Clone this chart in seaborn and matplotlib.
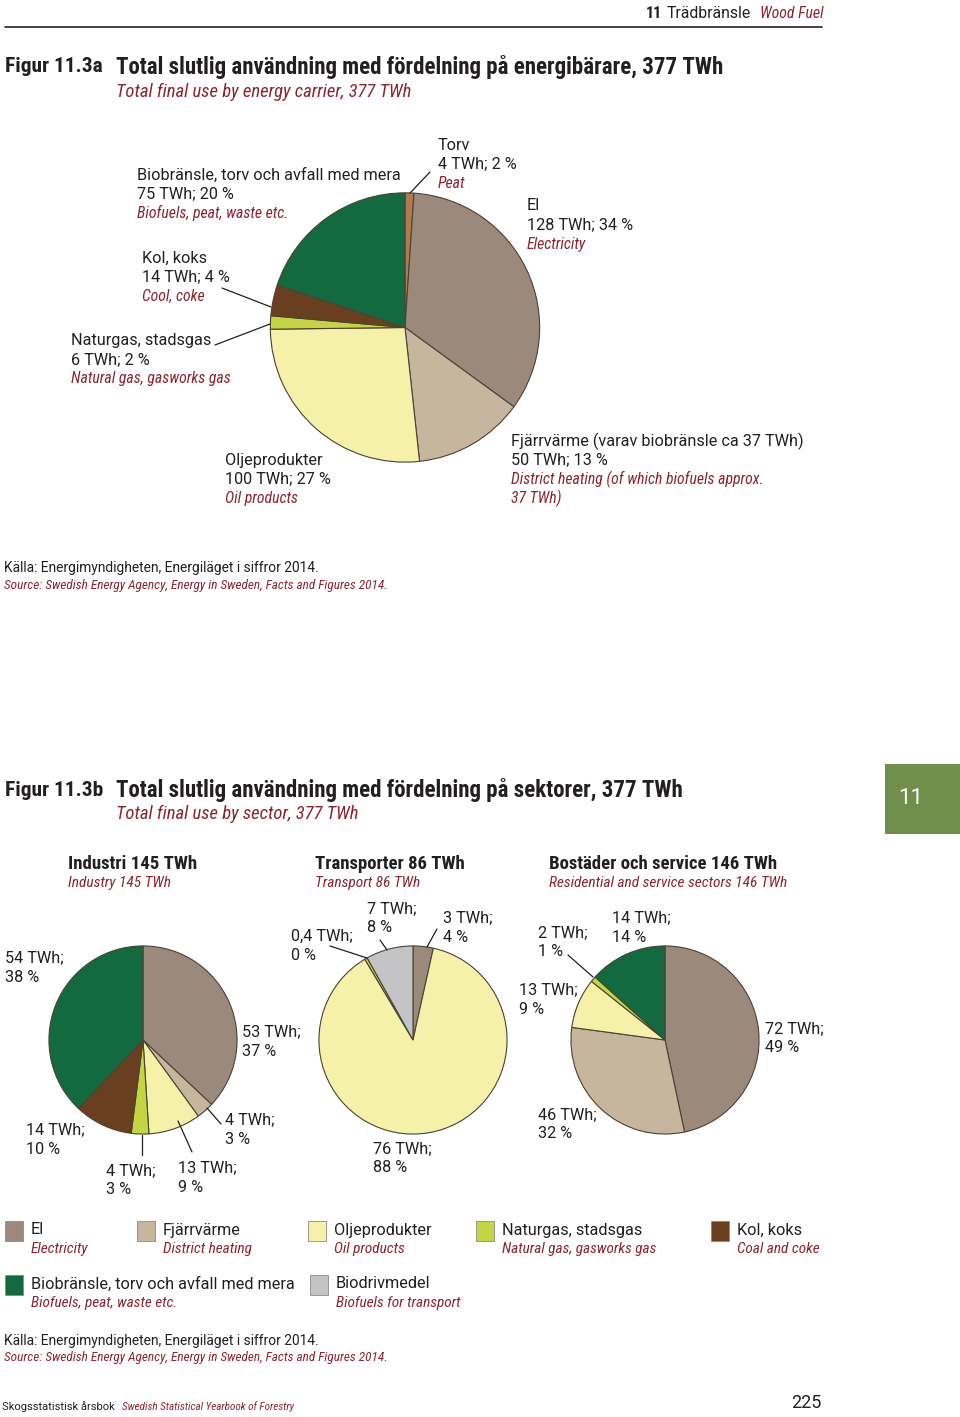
import matplotlib
matplotlib.use("Agg")
import matplotlib.pyplot as plt
import seaborn as sns
from matplotlib import font_manager
from matplotlib.patches import Rectangle

# --- data -------------------------------------------------------------
# Figur 11.3a, energy carriers (clockwise from 12 o'clock)
carriers_a = ["Torv", "El", "Fjärrvärme", "Oljeprodukter", "Naturgas", "Kol", "Bio"]
twh_a = [4, 128, 50, 100, 6, 14, 75]
pct_a = [2, 34, 13, 27, 2, 4, 20]

# Figur 11.3b, sectors
ind_cats = ["El", "Fjärrvärme", "Oljeprodukter", "Naturgas", "Kol", "Bio"]
ind_twh = [53, 4, 13, 4, 14, 54]
ind_pct = [37, 3, 9, 3, 10, 38]

tra_cats = ["El", "Oljeprodukter", "Naturgas", "Biodrivmedel"]
tra_twh = [3, 76, 0.4, 7]
tra_pct = [4, 88, 0, 8]

bos_cats = ["El", "Fjärrvärme", "Oljeprodukter", "Naturgas", "Bio"]
bos_twh = [72, 46, 13, 2, 14]
bos_pct = [49, 32, 9, 1, 14]

legend_sv = ["El", "Fjärrvärme", "Oljeprodukter", "Naturgas, stadsgas", "Kol, koks",
             "Biobränsle, torv och avfall med mera", "Biodrivmedel"]
legend_en = ["Electricity", "District heating", "Oil products", "Natural gas, gasworks gas",
             "Coal and coke", "Biofuels, peat, waste etc.", "Biofuels for transport"]
legend_keys = ["El", "Fjärrvärme", "Oljeprodukter", "Naturgas", "Kol", "Bio", "Biodrivmedel"]

colors = {"El": "#9b8a7b", "Fjärrvärme": "#c5b69d", "Oljeprodukter": "#f6f1a8",
          "Naturgas": "#c3d642", "Kol": "#6a3f20", "Bio": "#136a3f",
          "Torv": "#b07c4f", "Biodrivmedel": "#c4c4c6"}

# --- style -------------------------------------------------------------
sns.set_theme(style="white")
names = {f.name for f in font_manager.fontManager.ttflist}
NARROW = next((n for n in ["Liberation Sans Narrow", "Roboto Condensed", "Open Sans Condensed"]
               if n in names), "Roboto")
plt.rcParams["font.family"] = ["Roboto", "DejaVu Sans"]

RED = "#8c2332"
INK = "#231f20"
EDGE = "#4a4236"
W, H = 960, 1417
BODY = 11.7
ITAL = 11.3

fig = plt.figure(figsize=(W / 100, H / 100), dpi=100)
fig.patch.set_facecolor("white")

ov = fig.add_axes([0, 0, 1, 1])
ov.set_xlim(0, W)
ov.set_ylim(H, 0)
ov.axis("off")
ov.set_zorder(5)
ov.patch.set_alpha(0)


def txt(x, y, s, red=False, size=BODY, bold=False, narrow=False, **kw):
    fam = [NARROW, "DejaVu Sans"] if (red or bold or narrow) else ["Roboto", "DejaVu Sans"]
    ov.text(x, y, s, color=RED if red else INK, fontsize=size, family=fam,
            style="italic" if red else "normal", fontweight="bold" if bold else "normal",
            va="center", ha=kw.pop("ha", "left"), **kw)


def lines(x, y, rows, step=19):
    for i, (s, red) in enumerate(rows):
        txt(x, y + i * step, s, red=red, size=ITAL if red else BODY)


def leader(x0, y0, x1, y1):
    ov.plot([x0, x1], [y0, y1], color=INK, lw=0.9)


def pie_at(cx, cy, r, sizes, cats):
    ax = fig.add_axes([(cx - r) / W, 1 - (cy + r) / H, 2 * r / W, 2 * r / H])
    ax.pie(sizes, colors=[colors[c] for c in cats], startangle=90, counterclock=False,
           wedgeprops=dict(edgecolor=EDGE, linewidth=0.8))
    ax.set_xlim(-1.01, 1.01)
    ax.set_ylim(-1.01, 1.01)
    ax.set_aspect("equal")
    return ax


def lab(twh, pct):
    return f"{str(twh).replace('.', ',')} TWh;", f"{pct} %"


# --- header ------------------------------------------------------------
ov.plot([5, 822], [27, 27], color=INK, lw=1.2)
txt(760, 14, "Wood Fuel", red=True, size=11.3)
txt(751, 14, "Trädbränsle", size=11.3, ha="right")
txt(662, 14, "11", size=11.5, bold=True, ha="right")

# --- Figur 11.3a --------------------------------------------------------
txt(5, 67, "Figur 11.3a", size=15.4, bold=True)
txt(116, 67, "Total slutlig användning med fördelning på energibärare, 377 TWh", size=16.5, bold=True)
txt(116, 92, "Total final use by energy carrier, 377 TWh", red=True, size=13.4)

pie_at(405, 327.5, 136, twh_a, carriers_a)

lines(137, 175, [("Biobränsle, torv och avfall med mera", False),
                 (f"{twh_a[6]} TWh; {pct_a[6]} %", False), ("Biofuels, peat, waste etc.", True)])
lines(142, 258, [("Kol, koks", False), (f"{twh_a[5]} TWh; {pct_a[5]} %", False), ("Cool, coke", True)])
leader(222, 288, 271, 307)
lines(71, 341, [("Naturgas, stadsgas", False), (f"{twh_a[4]} TWh; {pct_a[4]} %", False),
                ("Natural gas, gasworks gas", True)])
leader(215, 345, 270, 324)
lines(438, 145, [("Torv", False), (f"{twh_a[0]} TWh; {pct_a[0]} %", False), ("Peat", True)])
leader(430, 172, 410, 193)
lines(527, 206, [("El", False), (f"{twh_a[1]} TWh; {pct_a[1]} %", False), ("Electricity", True)])
lines(225, 460, [("Oljeprodukter", False), (f"{twh_a[3]} TWh; {pct_a[3]} %", False),
                 ("Oil products", True)])
lines(511, 441, [("Fjärrvärme (varav biobränsle ca 37 TWh)", False),
                 (f"{twh_a[2]} TWh; {pct_a[2]} %", False),
                 ("District heating (of which biofuels approx.", True), ("37 TWh)", True)])

txt(4, 568, "Källa: Energimyndigheten, Energiläget i siffror 2014.", size=9.9)
txt(4, 585, "Source: Swedish Energy Agency, Energy in Sweden, Facts and Figures 2014.", red=True, size=9.5)

# --- Figur 11.3b --------------------------------------------------------
txt(5, 790, "Figur 11.3b", size=15.4, bold=True)
txt(116, 790, "Total slutlig användning med fördelning på sektorer, 377 TWh", size=16.5, bold=True)
txt(116, 814, "Total final use by sector, 377 TWh", red=True, size=13.4)
ov.add_patch(Rectangle((885, 764), 75, 70, color="#6f8f4a", lw=0))
ov.text(898, 798, "11", color="white", fontsize=16, family=["Roboto"], va="center")

txt(68, 864, "Industri 145 TWh", size=13.5, bold=True)
txt(68, 883, "Industry 145 TWh", red=True, size=11.1)
txt(315, 864, "Transporter 86 TWh", size=13.5, bold=True)
txt(315, 883, "Transport 86 TWh", red=True, size=11.1)
txt(549, 864, "Bostäder och service 146 TWh", size=13.5, bold=True)
txt(549, 883, "Residential and service sectors 146 TWh", red=True, size=11.1)

# Industri
pie_at(143, 1040, 95, ind_pct, ind_cats)
for (x, y), i in zip([(242, 1032), (225, 1120), (178, 1168), (106, 1171), (26, 1130), (5, 958)],
                     range(6)):
    a, b = lab(ind_twh[i], ind_pct[i])
    lines(x, y, [(a, False), (b, False)])
leader(207, 1108, 221, 1124)
leader(178, 1121, 192, 1152)
leader(142, 1135, 142, 1155)

# Transport
pie_at(413, 1040, 95, tra_twh, tra_cats)
for (x, y), i in zip([(443, 918), (373, 1149), (291, 936), (367, 909)], range(4)):
    a, b = lab(tra_twh[i], tra_pct[i])
    lines(x, y, [(a, False), (b, False)])
leader(437, 929, 427, 947)
leader(330, 946, 367, 958)
leader(380, 940, 387, 950)

# Bostäder
pie_at(665, 1040, 95, bos_pct, bos_cats)
for (x, y), i in zip([(765, 1029), (538, 1115), (519, 990), (538, 933), (612, 918)], range(5)):
    a, b = lab(bos_twh[i], bos_pct[i])
    lines(x, y, [(a, False), (b, False)])
leader(568, 955, 593, 977)

# --- legend ------------------------------------------------------------
leg_pos = [(5, 1230), (137, 1230), (308, 1230), (476, 1230), (711, 1230), (5, 1284), (310, 1284)]
for (x, y), k, sv, en in zip(leg_pos, legend_keys, legend_sv, legend_en):
    ov.add_patch(Rectangle((x, y - 9), 18, 20, facecolor=colors[k], edgecolor="#8a8a8a", lw=0.6))
    txt(x + 26, y, sv, size=BODY)
    txt(x + 26, y + 19, en, red=True, size=11)

txt(4, 1341, "Källa: Energimyndigheten, Energiläget i siffror 2014.", size=9.9)
txt(4, 1357, "Source: Swedish Energy Agency, Energy in Sweden, Facts and Figures 2014.", red=True, size=9.5)

# --- footer ------------------------------------------------------------
txt(2, 1407, "Skogsstatistisk årsbok", size=8)
txt(122, 1407, "Swedish Statistical Yearbook of Forestry", red=True, size=8)
txt(822, 1403, "225", size=13, ha="right")

fig.savefig("out.png", dpi=100)
